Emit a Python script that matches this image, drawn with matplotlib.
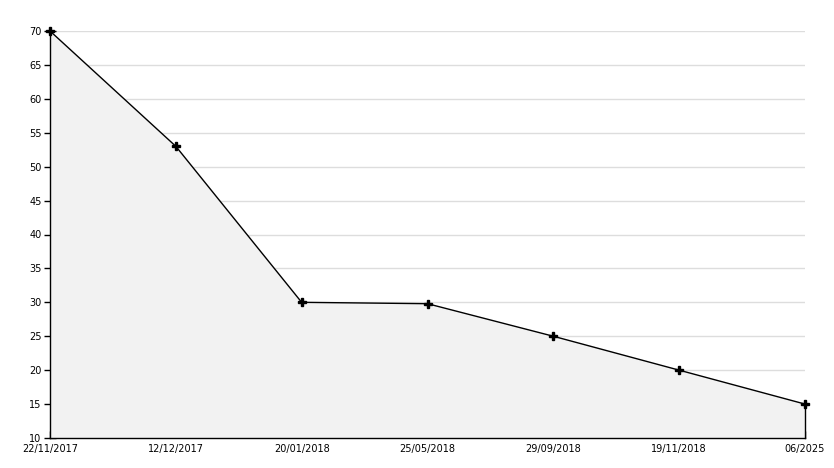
import matplotlib
matplotlib.use("Agg")
import matplotlib.pyplot as plt
from matplotlib.ticker import MultipleLocator

dates = ['22/11/2017', '12/12/2017', '20/01/2018', '25/05/2018',
         '29/09/2018', '19/11/2018', '06/2025']
values = [70, 53, 30, 29.8, 25, 20, 15]

fig = plt.figure(figsize=(8.34, 4.68), dpi=100)
ax = fig.add_axes([50/834, 30/468, 755/834, 407/468])

x = list(range(len(dates)))
ax.fill_between(x, values, 10, color='#f2f2f2', lw=0, zorder=1)
ax.plot(x, values, color='black', lw=1, marker='P', markersize=6, zorder=3, clip_on=False)
ax.plot([x[-1], x[-1]], [10, values[-1]], color='black', lw=1, zorder=3, clip_on=False)

ax.set_xlim(0, len(dates) - 1)
ax.set_ylim(10, 70)
ax.yaxis.set_major_locator(MultipleLocator(5))
ax.yaxis.set_minor_locator(MultipleLocator(1))
ax.set_xticks(x)
ax.set_xticklabels(dates)
ax.grid(axis='y', which='major', color='#dddddd', lw=1, zorder=0)
ax.set_axisbelow(True)

for s in ['top', 'right']:
    ax.spines[s].set_visible(False)
ax.spines['left'].set_linewidth(1)
ax.spines['bottom'].set_linewidth(1)
ax.spines['left'].set_zorder(4)

ax.tick_params(axis='y', which='major', direction='inout', length=8, width=1, labelsize=7, pad=2)
ax.tick_params(axis='y', which='minor', direction='in', length=4, width=1, color='black')
ax.tick_params(axis='x', which='major', direction='in', length=5, width=1, labelsize=7, pad=4)

plt.savefig('out.png', dpi=100)
